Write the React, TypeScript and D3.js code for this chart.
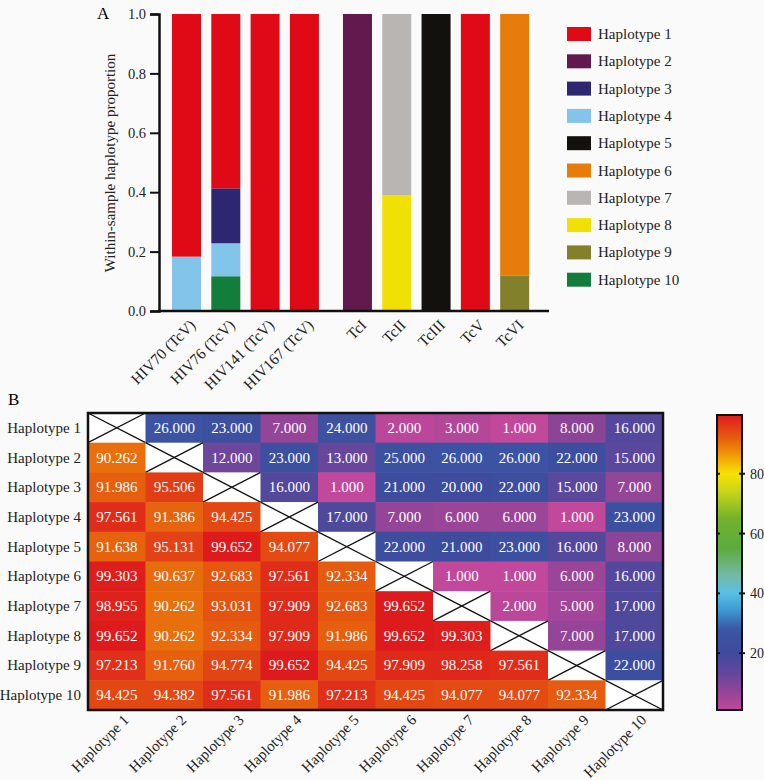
import React, { useEffect, useRef } from 'react';
import * as d3 from 'd3';

// Panel A: within-sample haplotype proportions
const samples = ['HIV70 (TcV)', 'HIV76 (TcV)', 'HIV141 (TcV)', 'HIV167 (TcV)', 'TcI', 'TcII', 'TcIII', 'TcV', 'TcVI'];
const sampleGroup = [0, 0, 0, 0, 1, 1, 1, 1, 1];
const haplotypes = ['Haplotype 1', 'Haplotype 2', 'Haplotype 3', 'Haplotype 4', 'Haplotype 5',
  'Haplotype 6', 'Haplotype 7', 'Haplotype 8', 'Haplotype 9', 'Haplotype 10'];
const haploColors = ['#e00a17', '#621a4e', '#2d2670', '#82c4ea', '#12110d',
  '#e87c0a', '#b9b5b2', '#f1e003', '#82802a', '#137d3b'];
// proportions per sample, one value per haplotype (stacked bottom->top: H10 ... H1)
const proportions = [
  [0.817, 0, 0, 0.183, 0, 0, 0, 0, 0, 0],
  [0.587, 0, 0.185, 0.111, 0, 0, 0, 0, 0, 0.117],
  [1, 0, 0, 0, 0, 0, 0, 0, 0, 0],
  [1, 0, 0, 0, 0, 0, 0, 0, 0, 0],
  [0, 1, 0, 0, 0, 0, 0, 0, 0, 0],
  [0, 0, 0, 0, 0, 0, 0.61, 0.39, 0, 0],
  [0, 0, 0, 0, 1, 0, 0, 0, 0, 0],
  [1, 0, 0, 0, 0, 0, 0, 0, 0, 0],
  [0, 0, 0, 0, 0, 0.88, 0, 0, 0.12, 0],
];
// stacking order from the bottom of each bar
const stackOrder = [9, 8, 7, 6, 5, 4, 3, 2, 1, 0];
const yTicksA = [0, 0.2, 0.4, 0.6, 0.8, 1.0];

// Panel B: lower triangle = % identity, upper triangle = differences
const matrix: (number | null)[][] = [
  [null, 26, 23, 7, 24, 2, 3, 1, 8, 16],
  [90.262, null, 12, 23, 13, 25, 26, 26, 22, 15],
  [91.986, 95.506, null, 16, 1, 21, 20, 22, 15, 7],
  [97.561, 91.386, 94.425, null, 17, 7, 6, 6, 1, 23],
  [91.638, 95.131, 99.652, 94.077, null, 22, 21, 23, 16, 8],
  [99.303, 90.637, 92.683, 97.561, 92.334, null, 1, 1, 6, 16],
  [98.955, 90.262, 93.031, 97.909, 92.683, 99.652, null, 2, 5, 17],
  [99.652, 90.262, 92.334, 97.909, 91.986, 99.652, 99.303, null, 7, 17],
  [97.213, 91.760, 94.774, 99.652, 94.425, 97.909, 98.258, 97.561, null, 22],
  [94.425, 94.382, 97.561, 91.986, 97.213, 94.425, 94.077, 94.077, 92.334, null],
];
const colorbarTicks = [20, 40, 60, 80];
const colorStops = [1, 8, 14, 20, 28, 35, 40, 46, 55, 65, 74, 80, 87, 90, 92.5, 96, 99.652];
const colorStopColors = ['#c2489b', '#8c4497', '#5f479c', '#3f4b9c', '#3a56a4', '#3f9fd6', '#58bfe6', '#74b9a4',
  '#5dab3e', '#72b22c', '#c8d41b', '#f6e200', '#ef9206', '#e8720a', '#e5590f', '#e13a17', '#de1b1c'];

const FONT = '"Liberation Serif", "Times New Roman", serif';

const App = () => {
  const svgRef = useRef<SVGSVGElement>(null);

  useEffect(() => {
    const svg = d3.select(svgRef.current);
    svg.selectAll('*').remove();
    svg.attr('width', 764).attr('height', 780).style('font-family', FONT);

    svg.append('rect').attr('width', 764).attr('height', 780).attr('fill', '#fafafa');

    // ---------- Panel A ----------
    const a = { left: 159, right: 549, top: 14, bottom: 311 };
    const slot = 39.3;
    const gapExtra = 0.35;
    const pos = samples.map((_, i) => i + (sampleGroup[i] ? gapExtra : 0));
    const x = d3.scaleLinear()
      .domain([-0.7, -0.7 + (a.right - a.left) / slot])
      .range([a.left, a.right]);
    const y = d3.scaleLinear().domain([0, 1]).range([a.bottom, a.top]);
    const barW = 29;

    svg.append('text').attr('x', 97).attr('y', 19).attr('font-size', 17).text('A');

    const gA = svg.append('g');
    samples.forEach((s, i) => {
      let acc = 0;
      stackOrder.forEach((h) => {
        const v = proportions[i][h];
        if (!v) return;
        gA.append('rect')
          .attr('x', x(pos[i]) - barW / 2)
          .attr('width', barW)
          .attr('y', y(acc + v))
          .attr('height', y(acc) - y(acc + v))
          .attr('fill', haploColors[h]);
        acc += v;
      });
      gA.append('text')
        .attr('transform', `translate(${x(pos[i]) + 10},${a.bottom + 15}) rotate(-45)`)
        .attr('text-anchor', 'end')
        .attr('font-size', 15.5)
        .attr('fill', '#222')
        .text(s);
    });

    // y axis
    const yAxis = gA.append('g')
      .attr('transform', `translate(${a.left},0)`)
      .call(d3.axisLeft(y).tickValues(yTicksA).tickFormat(d3.format('.1f')).tickSize(9).tickPadding(4));
    yAxis.select('.domain').attr('stroke', '#111').attr('stroke-width', 2.5);
    yAxis.selectAll('.tick line').attr('stroke', '#111').attr('stroke-width', 2);
    yAxis.selectAll('.tick text').attr('font-size', 14.5).attr('font-family', FONT).attr('fill', '#222');
    // x axis line
    gA.append('line')
      .attr('x1', a.left - 1).attr('x2', a.right)
      .attr('y1', a.bottom).attr('y2', a.bottom)
      .attr('stroke', '#111').attr('stroke-width', 2.5);

    svg.append('text')
      .attr('transform', `translate(115,163) rotate(-90)`)
      .attr('text-anchor', 'middle')
      .attr('font-size', 15)
      .attr('fill', '#222')
      .text('Within-sample haplotype proportion');

    // legend
    const leg = svg.append('g').attr('transform', 'translate(567,27)');
    haplotypes.forEach((h, i) => {
      leg.append('rect').attr('x', 0).attr('y', i * 27.3).attr('width', 24).attr('height', 14)
        .attr('fill', haploColors[i]);
      leg.append('text').attr('x', 31).attr('y', i * 27.3 + 12).attr('font-size', 15)
        .attr('fill', '#222').text(h);
    });

    // ---------- Panel B ----------
    const b = { left: 88, right: 663, top: 413, bottom: 710 };
    const bx = d3.scaleBand<number>().domain(d3.range(10)).range([b.left, b.right]);
    const by = d3.scaleBand<number>().domain(d3.range(10)).range([b.top, b.bottom]);
    const color = d3.scaleLinear<string>().domain(colorStops).range(colorStopColors)
      .interpolate(d3.interpolateRgb).clamp(true);

    svg.append('text').attr('x', 8).attr('y', 405).attr('font-size', 17).text('B');

    const gB = svg.append('g');
    matrix.forEach((row, r) => {
      row.forEach((v, c) => {
        const cx = bx(c)!;
        const cy = by(r)!;
        const w = bx.bandwidth();
        const hgt = by.bandwidth();
        if (v === null) {
          gB.append('rect').attr('x', cx).attr('y', cy).attr('width', w).attr('height', hgt).attr('fill', '#fff');
          gB.append('line').attr('x1', cx).attr('y1', cy).attr('x2', cx + w).attr('y2', cy + hgt)
            .attr('stroke', '#111').attr('stroke-width', 1.3);
          gB.append('line').attr('x1', cx).attr('y1', cy + hgt).attr('x2', cx + w).attr('y2', cy)
            .attr('stroke', '#111').attr('stroke-width', 1.3);
          return;
        }
        gB.append('rect').attr('x', cx).attr('y', cy).attr('width', w + 0.5).attr('height', hgt + 0.5)
          .attr('fill', color(v));
        gB.append('text')
          .attr('x', cx + w / 2).attr('y', cy + hgt / 2 + 5)
          .attr('text-anchor', 'middle').attr('font-size', 15).attr('fill', '#fff')
          .text(d3.format('.3f')(v));
      });
    });
    gB.append('rect').attr('x', b.left).attr('y', b.top)
      .attr('width', b.right - b.left).attr('height', b.bottom - b.top)
      .attr('fill', 'none').attr('stroke', '#111').attr('stroke-width', 2.5);

    // row and column labels
    haplotypes.forEach((h, i) => {
      gB.append('text').attr('x', b.left - 7).attr('y', by(i)! + by.bandwidth() / 2 + 5)
        .attr('text-anchor', 'end').attr('font-size', 15).attr('fill', '#222').text(h);
      gB.append('text')
        .attr('transform', `translate(${bx(i)! + bx.bandwidth() / 2 + 13},${b.bottom + 11}) rotate(-45)`)
        .attr('text-anchor', 'end').attr('font-size', 15).attr('fill', '#222').text(h);
    });

    // colorbar
    const cb = { left: 717, width: 25, top: 415, bottom: 710 };
    const cScale = d3.scaleLinear().domain([1, 99.652]).range([cb.bottom, cb.top]);
    const defs = svg.append('defs');
    const grad = defs.append('linearGradient').attr('id', 'cbgrad')
      .attr('x1', 0).attr('y1', 1).attr('x2', 0).attr('y2', 0);
    colorStops.forEach((s, i) => {
      grad.append('stop')
        .attr('offset', (s - 1) / (99.652 - 1))
        .attr('stop-color', colorStopColors[i]);
    });
    svg.append('rect').attr('x', cb.left).attr('y', cb.top).attr('width', cb.width)
      .attr('height', cb.bottom - cb.top).attr('fill', 'url(#cbgrad)')
      .attr('stroke', '#111').attr('stroke-width', 2);
    colorbarTicks.forEach((t) => {
      const ty = cScale(t);
      svg.append('line').attr('x1', cb.left - 1).attr('x2', cb.left + 3).attr('y1', ty).attr('y2', ty)
        .attr('stroke', '#111').attr('stroke-width', 2);
      svg.append('line').attr('x1', cb.left + cb.width - 3).attr('x2', cb.left + cb.width + 3)
        .attr('y1', ty).attr('y2', ty).attr('stroke', '#111').attr('stroke-width', 2);
      svg.append('text').attr('x', cb.left + cb.width + 8).attr('y', ty + 5)
        .attr('font-size', 14).attr('fill', '#222').text(t);
    });
  }, []);

  return <svg ref={svgRef} style={{ position: 'absolute', left: 0, top: 0, display: 'block' }}></svg>;
};

export default App;
